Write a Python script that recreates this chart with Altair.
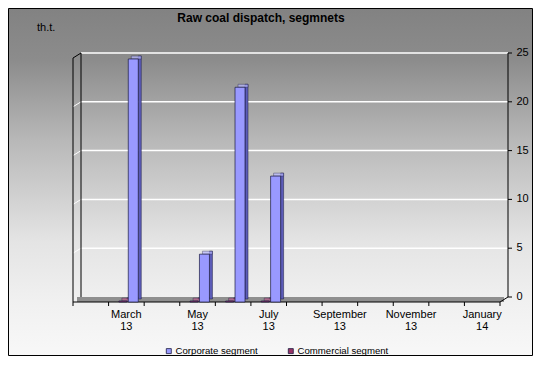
import altair as alt
import pandas as pd

# ---------------- data ----------------
months = ["February 13", "March 13", "April 13", "May 13", "June 13", "July 13",
          "August 13", "September 13", "October 13", "November 13", "December 13", "January 14"]
shown_labels = ["March 13", "May 13", "July 13", "September 13", "November 13", "January 14"]
series_names = ["Corporate segment", "Commercial segment"]
bar_months = ["March 13", "May 13", "June 13", "July 13"]
corporate = [24.9, 4.9, 22.0, 12.9]
commercial = [0.1, 0.1, 0.1, 0.1]
y_ticks = [0, 5, 10, 15, 20, 25]
series_colors = ["#9999ff", "#993366"]
side_colors = ["#5c5cb8", "#5e1f40"]
top_colors = ["#b8b8ff", "#b85c8a"]

rows = []
for m, c, k in zip(bar_months, corporate, commercial):
    rows.append({"month": m, "series": series_names[0], "value": c})
    rows.append({"month": m, "series": series_names[1], "value": k})
df = pd.DataFrame(rows)
ticks_df = pd.DataFrame({"v": y_ticks})
months_df = pd.DataFrame({"month": months})
labels_df = pd.DataFrame({"month": shown_labels})
one = pd.DataFrame({"a": [0]})

# ---------------- layout ----------------
W, H = 435, 244
FRONT = 427
BAND = FRONT / len(months)
PAD = {"left": 65, "top": 45, "right": 25, "bottom": 59}
FONT = "Liberation Sans"

xscale = alt.Scale(domain=months, range=[0, FRONT], paddingInner=0, paddingOuter=0)
yscale = alt.Scale(domain=[0, 25], nice=False, zero=True)

gradient = alt.LinearGradient(
    gradient="linear", x1=0, x2=0, y1=0, y2=1,
    stops=[alt.GradientStop(color="#828282", offset=0),
           alt.GradientStop(color="#8c8c8c", offset=0.15),
           alt.GradientStop(color="#b8b8b8", offset=0.38),
           alt.GradientStop(color="#e4e4e4", offset=0.67),
           alt.GradientStop(color="#f0f0f0", offset=0.84),
           alt.GradientStop(color="#f8f8f8", offset=1)])

bg = alt.Chart(one).mark_rect(fill=gradient, stroke="black", strokeWidth=1).encode(
    x=alt.value(-PAD["left"] + 0.5), x2=alt.value(W + PAD["right"] - 0.5),
    y=alt.value(-PAD["top"] + 0.5), y2=alt.value(H + PAD["bottom"] - 0.5))

floor = alt.Chart(one).mark_rect(fill="#8f8f8f").encode(
    x=alt.value(4), x2=alt.value(W - 4), y=alt.value(H), y2=alt.value(H + 5))

X = alt.X("month:N", scale=xscale, axis=None, sort=months)

grid = alt.Chart(ticks_df).transform_filter("datum.v > 0").mark_rule(
    color="white", strokeWidth=1.5).encode(
    y=alt.Y("v:Q", scale=yscale, axis=None),
    x=alt.value(8), x2=alt.value(W))

wall_grid = alt.Chart(ticks_df).transform_filter("datum.v > 0 && datum.v < 25").mark_rule(
    color="white", strokeWidth=1, yOffset=5, y2Offset=0).encode(
    y=alt.Y("v:Q", scale=yscale, axis=None), y2=alt.Y2("v:Q"),
    x=alt.value(0), x2=alt.value(8))

def line(x1, y1, x2, y2):
    return alt.Chart(one).mark_rule(color="black", strokeWidth=1).encode(
        x=alt.value(x1), x2=alt.value(x2), y=alt.value(y1), y2=alt.value(y2))

walls = [line(0, 5, 0, H + 5), line(0, 5, 8, 0), line(8, 0, 8, H),
         line(W, H, FRONT, H + 5),
         line(0, H + 5, FRONT, H + 5),      # x axis domain (front floor edge)
         line(FRONT, H + 5, FRONT, H + 9),  # last x tick
         line(W, 0, W, H)]                  # y axis domain

# x axis ticks (band boundaries) and labels
x_ticks = alt.Chart(months_df).mark_rule(color="black", xOffset=-BAND / 2).encode(
    x=X, y=alt.value(H + 5), y2=alt.value(H + 9))
x_labels = alt.Chart(labels_df).mark_text(
    font=FONT, fontSize=11, color="black", align="center", baseline="top",
    lineBreak=" ", lineHeight=12).encode(
    x=X, y=alt.value(H + 12), text="month:N")

# y axis ticks and labels (right side)
y_tick_marks = alt.Chart(ticks_df).mark_rule(color="black").encode(
    y=alt.Y("v:Q", scale=yscale, axis=None), x=alt.value(W), x2=alt.value(W + 4))
y_labels = alt.Chart(ticks_df).mark_text(
    font=FONT, fontSize=11, color="black", align="left", baseline="middle").encode(
    y=alt.Y("v:Q", scale=yscale, axis=None), x=alt.value(W + 8.5), text="v:Q")

base = alt.Chart(df)
Y = alt.Y("value:Q", scale=yscale, axis=None)
legend = alt.Legend(orient="none", legendX=91, legendY=293, direction="horizontal",
                    title=None, symbolType="square", symbolSize=25,
                    symbolStrokeColor="#1a1a40", symbolStrokeWidth=0.8,
                    labelFont=FONT, labelFontSize=9.6, labelColor="black",
                    labelOffset=2, columnPadding=28, padding=0)
COLOR = alt.Color("series:N", scale=alt.Scale(domain=series_names, range=series_colors),
                  legend=legend)

def bar_layers(idx, front_size, off):
    s = base.transform_filter(alt.datum.series == series_names[idx])
    side = s.mark_bar(size=3, xOffset=off + front_size / 2 + 1.5, yOffset=2,
                      color=side_colors[idx], stroke="#1a1a40", strokeWidth=0.5).encode(x=X, y=Y)
    top = s.mark_tick(size=front_size, thickness=3, xOffset=off + 3, yOffset=3.5,
                      color=top_colors[idx], stroke="#1a1a40", strokeWidth=0.5).encode(x=X, y=Y)
    front = s.mark_bar(size=front_size, xOffset=off, yOffset=5,
                       stroke="#1a1a40", strokeWidth=0.7).encode(x=X, y=Y, color=COLOR)
    return [side, top, front]

title = alt.Chart(one).mark_text(text="Raw coal dispatch, segmnets", font=FONT, fontSize=12,
                                 fontWeight="bold", color="black", align="center",
                                 baseline="alphabetic").encode(
    x=alt.value(188), y=alt.value(-31.5))
unit = alt.Chart(one).mark_text(text="th.t.", font=FONT, fontSize=11, color="black",
                                align="left", baseline="alphabetic").encode(
    x=alt.value(-36), y=alt.value(-22))

layers = [bg, floor, grid, wall_grid] + walls + [x_ticks, x_labels, y_tick_marks, y_labels]
layers += bar_layers(1, 8, -3.5)
layers += bar_layers(0, 10, 6.9)
layers += [title, unit]

chart = alt.layer(*layers).properties(
    width=W, height=H,
    padding=PAD,
    autosize=alt.AutoSizeParams(type="none"),
).configure_view(strokeWidth=0)

chart.save("out.html", embed_options={"renderer": "svg", "actions": False})
